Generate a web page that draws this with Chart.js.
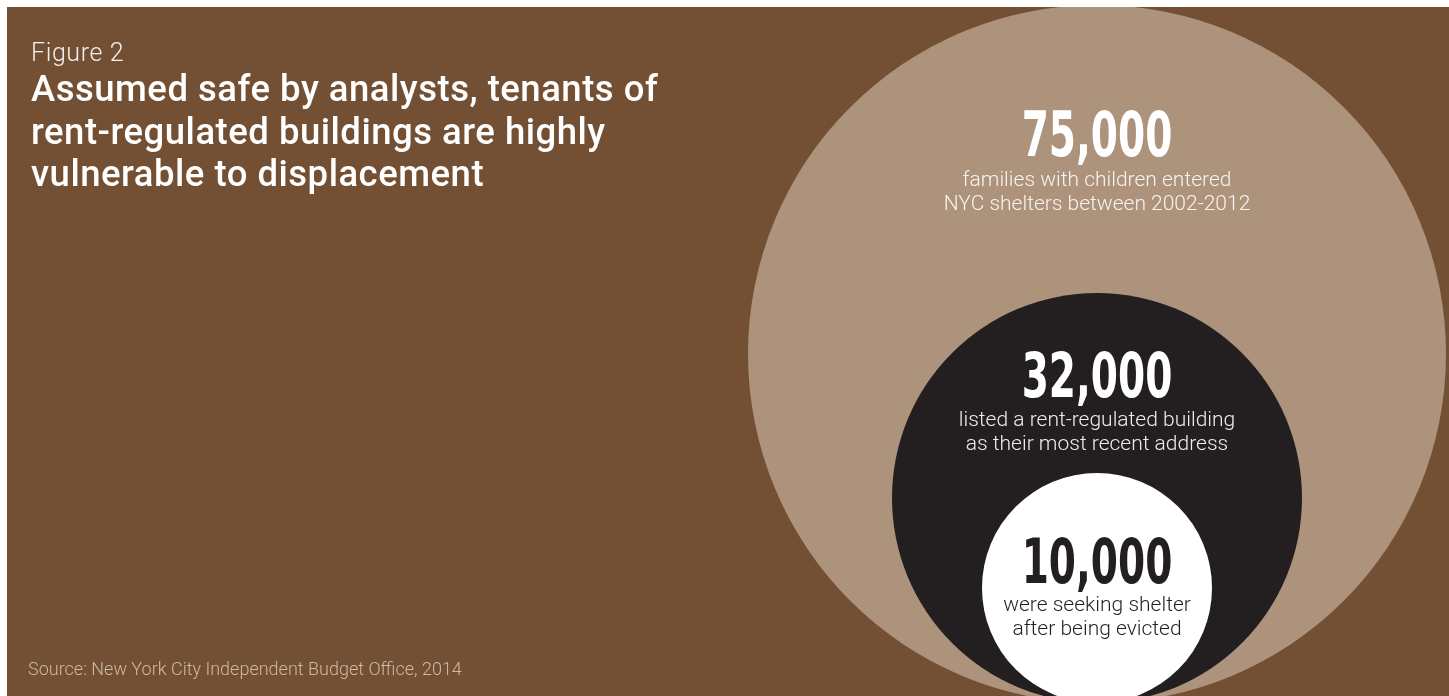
<!DOCTYPE html>
<html>
<head>
<meta charset="utf-8">
<script src="https://cdn.jsdelivr.net/npm/chart.js@4.4.1/dist/chart.umd.min.js"></script>
<style>
html,body{margin:0;padding:0;background:#ffffff;width:1449px;height:696px;overflow:hidden}
#panel{position:absolute;left:7px;top:7px;width:1442px;height:689px;background:#734f33;overflow:hidden}
#c{position:absolute;left:0;top:0}
.fig{position:absolute;left:24px;top:31px;font-family:Roboto;font-weight:300;font-size:25px;letter-spacing:0.6px;line-height:1.17;color:#f4efea;white-space:nowrap}
.title{position:absolute;left:24px;top:61px;font-family:Roboto;font-weight:500;font-size:36.5px;letter-spacing:0.5px;line-height:42.5px;color:#ffffff;white-space:nowrap}
.src{position:absolute;left:21px;top:651px;font-family:Roboto;font-weight:300;font-size:18px;line-height:1.17;color:#cdb9a6;white-space:nowrap}
.num{position:absolute;font-family:"DejaVu Sans Condensed","Liberation Sans Narrow",sans-serif;font-weight:bold;font-size:62px;line-height:62px;white-space:nowrap;transform:translateX(-50%) scaleX(0.7);transform-origin:50% 50%}
.desc{position:absolute;font-family:Roboto;font-weight:300;font-size:21px;line-height:24px;text-align:center;white-space:nowrap;transform:translateX(-50%)}
</style>
</head>
<body>
<div id="panel">
  <canvas id="c" width="1442" height="689"></canvas>
  <div class="fig" id="fig"></div>
  <div class="title" id="title"></div>
  <div class="src" id="src"></div>
  <div id="labels"></div>
</div>
<script>
// ---- data ----
const figureLabel = "Figure 2";
const titleLines = ["Assumed safe by analysts, tenants of", "rent-regulated buildings are highly", "vulnerable to displacement"];
const sourceText = "Source: New York City Independent Budget Office, 2014";
const categories = ["Families with children entering shelters", "Last address rent-regulated", "Seeking shelter after eviction"];
const values = [75000, 32000, 10000];
const descriptions = [
  ["families with children entered", "NYC shelters between 2002-2012"],
  ["listed a rent-regulated building", "as their most recent address"],
  ["were seeking shelter", "after being evicted"]
];

// ---- styles (sizes / colours, not data) ----
const circleRadius = [349, 205, 115];
const circleColors = ["#ad927c", "#231f20", "#ffffff"];
const numberColors = ["#ffffff", "#ffffff", "#231f20"];
const descColors = ["#f7f3ef", "#f0ece8", "#231f20"];
const numberOffset = [106, 59, 65];   // digit top below circle top
const descOffset = [75, 74, 73];      // first description baseline below digit top

document.getElementById('fig').textContent = figureLabel;
document.getElementById('title').innerHTML = titleLines.map(t => t.replace(/&/g,'&amp;')).join('<br>');
document.getElementById('src').textContent = sourceText;

const labelsDiv = document.getElementById('labels');
const numDivs = [], descDivs = [];
values.forEach((v, i) => {
  const n = document.createElement('div');
  n.className = 'num';
  n.style.color = numberColors[i];
  n.textContent = v.toLocaleString('en-US');
  labelsDiv.appendChild(n);
  numDivs.push(n);
  const d = document.createElement('div');
  d.className = 'desc';
  d.style.color = descColors[i];
  d.innerHTML = descriptions[i].join('<br>');
  labelsDiv.appendChild(d);
  descDivs.push(d);
});

const labelPlugin = {
  id: 'circleLabels',
  afterRender(chart) {
    chart.data.datasets.forEach((ds, i) => {
      const el = chart.getDatasetMeta(i).data[0];
      if (!el) return;
      const r = el.options.radius;
      const digitTop = el.y - r + numberOffset[i];
      numDivs[i].style.left = el.x + 'px';
      numDivs[i].style.top = (digitTop - 7) + 'px';
      descDivs[i].style.left = el.x + 'px';
      descDivs[i].style.top = (digitTop + descOffset[i] - 19.2) + 'px';
    });
  }
};

const datasets = values.map((v, i) => ({
  label: categories[i],
  data: [{ x: 0, y: circleRadius[i], value: v }],
  backgroundColor: circleColors[i],
  borderWidth: 0,
  radius: circleRadius[i],
  hoverRadius: 0,
  clip: false,
  order: values.length - i
}));

new Chart(document.getElementById('c'), {
  type: 'bubble',
  data: { datasets },
  plugins: [labelPlugin],
  options: {
    responsive: false,
    animation: false,
    events: [],
    layout: { autoPadding: false, padding: { left: 740, right: 2, top: 0, bottom: 0 } },
    scales: {
      x: { type: 'linear', min: -1, max: 1, display: false },
      y: { type: 'linear', min: 7, max: 696, display: false }
    },
    plugins: { legend: { display: false }, tooltip: { enabled: false }, title: { display: false } }
  }
});
</script>
</body>
</html>
